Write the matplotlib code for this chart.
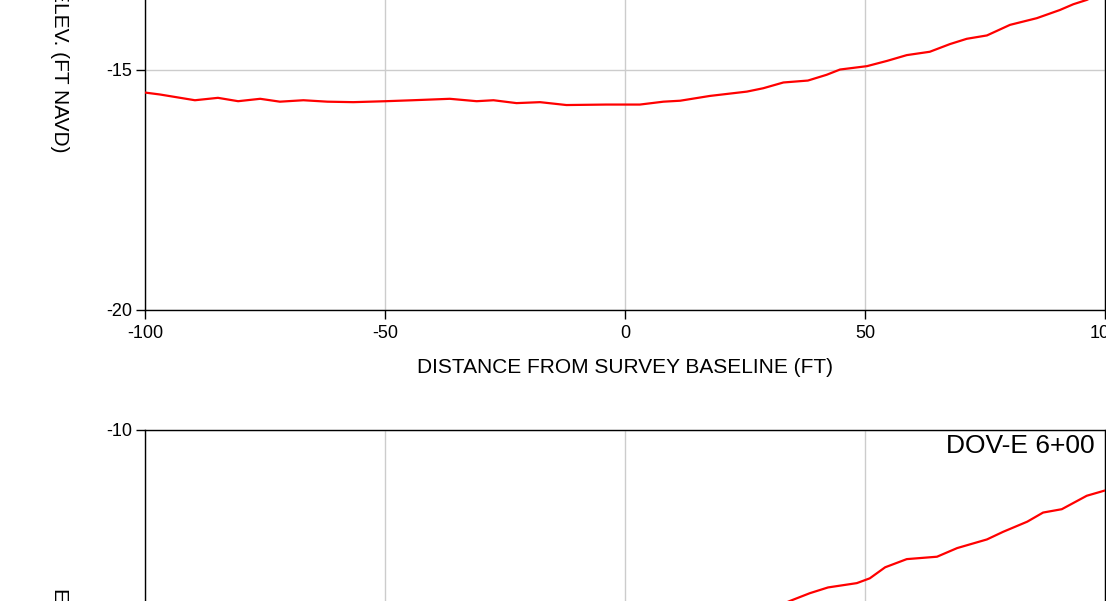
import matplotlib
matplotlib.use('Agg')
import matplotlib.pyplot as plt

plt.rcParams['font.family'] = ['Liberation Sans', 'DejaVu Sans']
plt.rcParams['axes.unicode_minus'] = False

# Perfil superior (ventana muestra solo la parte baja)
dist_top = [-100, -96.9, -89.6, -84.8, -80.6, -76, -71.9, -67, -62, -56.6,
            -49.8, -44.2, -36.5, -30.9, -27.4, -22.6, -17.7, -12.2, -3.9, 3.1,
            8, 11.5, 17.7, 25.4, 28.8, 33, 38.1, 42, 44.8, 50.4,
            54.6, 58.7, 63.5, 67.7, 71.2, 75.4, 80.2, 85.8, 90.6, 93.4, 96.2, 100]
elev_top = [-15.47, -15.51, -15.63, -15.58, -15.65, -15.60, -15.66, -15.63, -15.66, -15.67,
            -15.65, -15.63, -15.60, -15.65, -15.63, -15.69, -15.67, -15.73, -15.72, -15.72,
            -15.66, -15.64, -15.54, -15.45, -15.38, -15.26, -15.22, -15.10, -14.99, -14.92,
            -14.81, -14.69, -14.62, -14.46, -14.35, -14.28, -14.06, -13.92, -13.75, -13.63, -13.54, -13.35]

# Perfil DOV-E 6+00
dist_bot = [-100, -75, -50, -25, 0, 15, 25, 30, 34.4, 38.5, 42.3, 48.3, 51, 54.2,
            58.7, 65, 69.2, 75.4, 78.8, 83.8, 87.1, 91, 96.2, 100]
elev_bot = [-15.3, -15.3, -15.2, -15.0, -14.6, -14.2, -13.9, -13.75, -13.56, -13.40,
            -13.28, -13.19, -13.09, -12.86, -12.69, -12.64, -12.46, -12.28, -12.12,
            -11.91, -11.72, -11.65, -11.37, -11.26]
label_bot = 'DOV-E 6+00'

x_ticks = [-100, -50, 0, 50, 100]
y_ticks = [-20, -15, -10]

fig = plt.figure(figsize=(11.06, 6.01), dpi=100)

W, H = 1106, 601
left, width, height = 145 / W, 960 / W, 480 / H
ax_top = fig.add_axes([left, (H - 310) / H, width, height])
ax_bot = fig.add_axes([left, (H - 910) / H, width, height])

paneles = [(ax_top, dist_top, elev_top, None), (ax_bot, dist_bot, elev_bot, label_bot)]
for ax, x, y, etiqueta in paneles:
    ax.plot(x, y, color='#ff0000', lw=1.6, zorder=3)
    ax.set_xlim(-100, 100)
    ax.set_ylim(-20, -10)
    ax.set_xticks(x_ticks)
    ax.set_yticks(y_ticks)
    ax.grid(True, color='#cccccc', lw=1)
    ax.tick_params(direction='out', length=6.5, width=1, labelsize=13, pad=3)
    ax.tick_params(axis='x', pad=4)
    for s in ax.spines.values():
        s.set_linewidth(1)
        s.set_color('black')
    ax.set_xlabel('DISTANCE FROM SURVEY BASELINE (FT)', fontsize=15, labelpad=12)
    ax.set_ylabel('ELEV. (FT NAVD)', fontsize=15, rotation=270,
                  ha='center', va='center', rotation_mode='default')
    ax.yaxis.set_label_coords((59 - 145) / 960, 0.5)
    if etiqueta:
        ax.text(1 - 10 / 960, 1 - 4 / 480, etiqueta, transform=ax.transAxes,
                ha='right', va='top', fontsize=19)

fig.savefig('out.png', dpi=100)
